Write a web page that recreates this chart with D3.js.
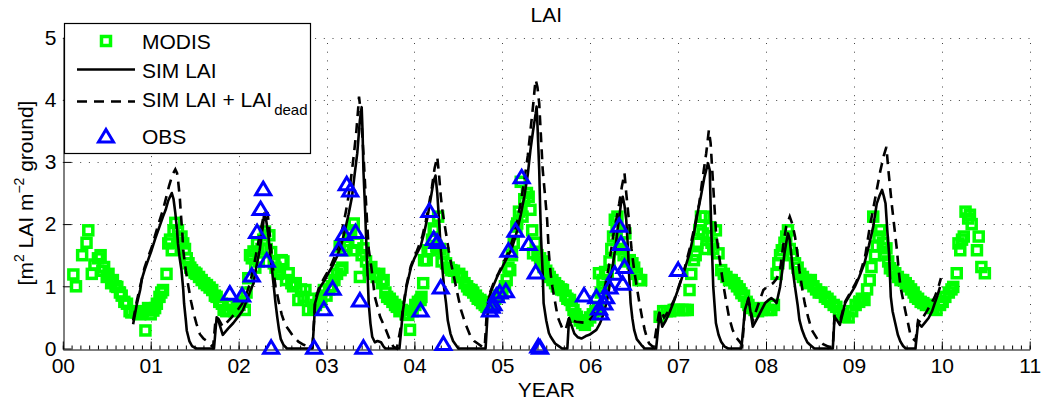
<!DOCTYPE html>
<html>
<head>
<meta charset="utf-8">
<script src="https://cdn.jsdelivr.net/npm/d3@7"></script>
<style>
  body { margin: 0; background: #fff; }
  svg { display: block; font-family: 'Liberation Sans', Arial, Helvetica, sans-serif; }
</style>
</head>
<body>
<div id="chart"></div>
<script>
// x in years since 2000, y in LAI [m2 m-2]
const modis = [
  [0.12,1.19],[0.15,1.0],[0.22,1.5],[0.27,1.70],[0.29,1.90],[0.33,1.2],[0.36,1.35],[0.40,1.45],[0.43,1.5],
  [0.45,1.25],[0.47,1.31],[0.50,1.15],[0.52,1.2],[0.55,1.05],[0.57,1.1],[0.60,1.0],[0.62,0.99],[0.65,0.9],
  [0.67,0.85],[0.70,0.75],[0.73,0.72],[0.76,0.6],[0.78,0.58],[0.82,0.6],[0.84,0.58],[0.88,0.55],[0.91,0.6],
  [0.94,0.29],[0.97,0.65],[1.0,0.55],[1.03,0.61],[1.05,0.65],[1.07,0.72],[1.10,0.83],[1.12,0.9],[1.14,0.94],
  [1.18,1.2],[1.20,1.69],[1.22,1.75],[1.24,1.58],[1.26,1.9],[1.28,2.02],[1.31,1.9],[1.33,1.7],[1.35,1.8],
  [1.37,1.69],[1.39,1.60],[1.41,1.45],[1.43,1.37],[1.45,1.3],[1.47,1.26],[1.50,1.22],[1.52,1.2],[1.55,1.15],
  [1.58,1.1],[1.61,1.05],[1.64,1.02],[1.67,0.98],[1.70,0.94],[1.73,0.85],[1.75,0.83],[1.78,0.75],[1.81,0.72],
  [1.83,0.62],[1.86,0.6],[1.89,0.62],[1.92,0.7],[1.95,0.6],[1.98,0.65],[2.01,0.7],[2.04,0.75],[2.07,0.62],
  [2.09,0.9],[2.11,1.13],[2.13,1.5],[2.15,1.45],[2.17,1.56],[2.19,1.3],[2.21,1.69],[2.23,1.4],[2.26,1.6],
  [2.28,1.75],[2.30,1.88],[2.32,1.6],[2.35,1.82],[2.37,1.55],[2.40,1.37],[2.42,1.3],[2.45,1.2],[2.47,1.25],
  [2.49,1.42],[2.51,1.4],[2.54,1.1],[2.57,1.21],[2.60,1.05],[2.62,1.0],[2.65,1.05],[2.68,0.78],[2.71,0.95],
  [2.74,0.83],[2.76,0.94],[2.79,0.62],[2.82,0.8],[2.85,0.65],[2.88,0.7],[2.91,0.75],[2.94,0.8],[2.97,0.94],
  [3.0,0.85],[3.03,0.95],[3.06,1.0],[3.09,1.1],[3.12,1.2],[3.15,1.64],[3.16,1.26],[3.18,1.3],[3.20,1.58],
  [3.22,1.65],[3.25,1.85],[3.28,1.9],[3.31,2.01],[3.33,1.58],[3.35,1.7],[3.38,1.15],[3.40,1.5],[3.42,1.61],
  [3.45,1.4],[3.48,1.26],[3.51,1.31],[3.54,1.2],[3.57,1.15],[3.60,1.2],[3.63,1.05],[3.65,1.1],[3.67,0.9],
  [3.69,0.83],[3.72,0.8],[3.75,0.75],[3.78,0.7],[3.80,0.67],[3.83,0.6],[3.86,0.62],[3.90,0.55],[3.93,0.54],
  [3.95,0.3],[3.98,0.6],[4.01,0.7],[4.04,0.75],[4.07,0.78],[4.08,0.83],[4.10,1.05],[4.11,1.42],[4.14,1.42],
  [4.15,1.58],[4.18,1.58],[4.20,1.75],[4.22,1.93],[4.23,1.9],[4.25,1.65],[4.27,2.12],[4.29,1.6],[4.31,1.4],
  [4.33,1.53],[4.36,1.37],[4.39,1.3],[4.42,1.26],[4.45,1.25],[4.49,1.15],[4.51,1.2],[4.54,1.15],[4.57,1.05],
  [4.60,1.0],[4.62,0.95],[4.65,0.94],[4.67,0.9],[4.70,0.85],[4.72,0.8],[4.75,0.78],[4.77,0.73],[4.80,0.7],
  [4.82,0.67],[4.85,0.72],[4.88,0.75],[4.92,0.8],[4.96,0.85],[5.0,0.9],[5.03,1.0],[5.05,1.1],[5.07,1.3],
  [5.09,1.26],[5.11,1.5],[5.13,1.7],[5.16,1.96],[5.17,2.01],[5.19,2.2],[5.21,2.68],[5.23,2.12],[5.25,2.4],
  [5.28,2.5],[5.30,2.44],[5.32,2.23],[5.34,1.9],[5.35,1.53],[5.38,1.7],[5.40,1.5],[5.43,1.45],[5.45,1.4],
  [5.47,1.31],[5.50,1.25],[5.52,1.2],[5.54,1.15],[5.57,1.1],[5.60,1.05],[5.62,1.0],[5.64,0.99],[5.67,0.95],
  [5.69,0.94],[5.72,0.85],[5.74,0.8],[5.77,0.78],[5.79,0.7],[5.81,0.62],[5.83,0.55],[5.85,0.51],[5.88,0.45],
  [5.91,0.41],[5.94,0.38],[5.97,0.45],[6.0,0.5],[6.03,0.55],[6.06,0.6],[6.09,0.67],[6.10,1.21],[6.12,0.9],
  [6.14,1.1],[6.15,0.99],[6.17,1.23],[6.20,1.2],[6.22,1.4],[6.24,1.6],[6.26,1.8],[6.28,2.07],[6.30,1.9],
  [6.31,2.12],[6.33,1.7],[6.35,1.6],[6.38,1.5],[6.40,1.85],[6.42,1.4],[6.45,1.42],[6.48,1.37],[6.50,1.3],
  [6.53,1.2],[6.55,1.1],[6.58,1.1],
  [6.79,0.51],[6.83,0.6],[6.87,0.6],[6.91,0.6],[6.95,0.62],[6.97,0.62],[7.01,0.62],[7.05,0.62],[7.08,0.62],
  [7.11,0.62],[7.13,0.94],[7.15,1.2],[7.18,1.42],[7.20,1.5],[7.22,1.7],[7.24,1.9],[7.26,2.12],[7.28,1.85],
  [7.30,2.12],[7.32,1.6],[7.34,1.8],[7.36,1.95],[7.38,1.7],[7.40,1.6],[7.43,1.9],[7.46,1.53],[7.49,1.26],
  [7.52,1.2],[7.55,1.15],[7.58,1.1],[7.61,1.1],[7.64,1.05],[7.67,1.0],[7.70,0.95],[7.72,0.89],[7.75,0.85],
  [7.78,0.75],[7.80,0.7],[7.84,0.65],[7.87,0.62],[7.91,0.6],[7.95,0.62],[7.98,0.65],[8.02,0.62],[8.06,0.62],
  [8.09,0.7],[8.12,1.2],[8.14,1.37],[8.16,1.5],[8.18,1.58],[8.21,1.7],[8.23,1.8],[8.25,1.9],[8.27,1.6],
  [8.30,1.5],[8.33,1.37],[8.36,1.3],[8.39,1.2],[8.42,1.15],[8.45,1.1],[8.48,1.05],[8.51,1.1],[8.54,1.0],
  [8.57,0.95],[8.60,0.9],[8.63,0.9],[8.67,0.83],[8.70,0.8],[8.73,0.75],[8.77,0.7],[8.80,0.67],[8.83,0.6],
  [8.87,0.55],[8.90,0.51],[8.94,0.5],[8.98,0.6],[9.02,0.7],[9.06,0.75],[9.09,0.8],[9.12,0.78],[9.15,0.95],
  [9.18,1.1],[9.20,1.31],[9.22,2.12],[9.24,1.5],[9.26,1.64],[9.28,1.8],[9.30,1.9],[9.33,1.7],[9.35,1.5],
  [9.37,1.61],[9.39,1.4],[9.41,1.29],[9.44,1.25],[9.47,1.21],[9.50,1.15],[9.53,1.1],[9.56,1.1],[9.59,1.05],
  [9.62,1.0],[9.65,0.95],[9.68,0.9],[9.70,0.83],[9.73,0.8],[9.76,0.75],[9.79,0.73],[9.82,0.7],[9.86,0.7],
  [9.90,0.65],[9.94,0.62],[9.98,0.7],[10.01,0.75],[10.04,0.83],[10.08,0.9],[10.11,0.95],[10.13,0.99],
  [10.17,1.21],[10.19,1.69],[10.21,1.58],[10.23,1.75],[10.25,1.8],[10.27,2.2],[10.30,2.09],[10.32,2.15],
  [10.34,2.0],[10.40,1.58],[10.42,1.8],[10.45,1.31],[10.49,1.21]
];

const simLai = [
  [0.80,0.39],[0.84,0.7],[0.88,0.94],[0.90,1.12],[0.93,1.26],[0.97,1.42],[1.01,1.58],[1.05,1.76],[1.10,1.96],
  [1.14,2.12],[1.17,2.23],[1.20,2.38],[1.24,2.50],[1.26,2.4],[1.28,2.18],[1.30,1.9],[1.31,1.69],[1.33,1.45],
  [1.35,1.26],[1.37,0.95],[1.38,0.72],[1.40,0.45],[1.41,0.29],[1.44,0.12],[1.47,0.04],[1.52,0],[1.72,0],
  [1.75,0.5],[1.77,0.45],[1.82,0.22],[1.88,0.32],[1.94,0.41],[2.0,0.52],[2.05,0.62],[2.10,0.8],[2.14,0.95],
  [2.17,1.05],[2.20,1.3],[2.24,1.58],[2.26,1.8],[2.28,2.0],[2.29,2.17],[2.31,2.1],[2.34,1.8],[2.36,1.5],
  [2.38,1.27],[2.40,1.0],[2.42,0.73],[2.44,0.5],[2.46,0.3],[2.48,0.15],[2.51,0.06],[2.55,0],[2.84,0],
  [2.86,0.45],[2.87,0.73],[2.90,0.88],[2.93,0.99],[2.98,1.1],[3.02,1.21],[3.07,1.33],[3.12,1.48],[3.17,1.68],
  [3.21,1.9],[3.25,2.15],[3.29,2.44],[3.32,2.8],[3.35,3.14],[3.38,3.67],[3.40,3.88],[3.41,3.5],[3.42,2.87],
  [3.44,2.2],[3.45,1.8],[3.47,1.1],[3.48,0.73],[3.50,0.4],[3.52,0.19],[3.55,0.1],[3.58,0.12],[3.62,0.1],
  [3.65,0.03],[3.67,0],[3.83,0],
  [3.85,0.3],[3.87,0.62],[3.91,0.99],[3.96,1.30],[4.00,1.45],[4.04,1.56],[4.07,1.64],[4.11,1.85],[4.15,2.12],
  [4.19,2.45],[4.22,2.70],[4.24,2.78],[4.26,2.5],[4.28,2.07],[4.30,1.6],[4.32,1.26],[4.34,0.95],[4.36,0.73],
  [4.38,0.45],[4.41,0.24],[4.44,0.12],[4.47,0.06],[4.50,0],[4.81,0],
  [4.83,0.5],[4.85,0.83],[4.88,0.95],[4.91,1.05],[4.95,1.18],[5.0,1.31],[5.05,1.45],[5.10,1.58],[5.14,1.75],
  [5.17,1.9],[5.21,2.15],[5.25,2.44],[5.29,2.8],[5.32,3.19],[5.35,3.5],[5.38,3.78],[5.39,3.89],[5.40,3.6],
  [5.42,2.87],[5.43,2.3],[5.44,1.8],[5.46,1.2],[5.47,0.73],[5.50,0.45],[5.53,0.25],[5.55,0.19],[5.60,0.08],
  [5.65,0.03],[5.68,0],[5.74,0],
  [5.76,0.49],[5.78,0.4],[5.82,0.24],[5.86,0.18],[5.90,0.16],[5.95,0.2],[5.99,0.22],[6.03,0.26],[6.07,0.3],
  [6.11,0.4],[6.14,0.51],[6.17,0.65],[6.20,0.83],[6.23,1.1],[6.26,1.37],[6.29,1.65],[6.31,1.9],[6.33,2.1],
  [6.35,2.33],[6.37,2.44],[6.39,2.3],[6.41,2.07],[6.43,1.6],[6.44,1.26],[6.46,0.73],[6.48,0.48],[6.50,0.3],
  [6.53,0.15],[6.58,0.06],[6.62,0],[6.75,0],
  [6.79,0.57],[6.82,0.35],[6.86,0.45],[6.90,0.57],[6.95,0.75],[7.01,0.99],[7.07,1.25],[7.13,1.53],[7.18,1.85],
  [7.22,2.17],[7.26,2.45],[7.30,2.76],[7.34,2.98],[7.36,2.87],[7.37,2.3],[7.38,1.8],[7.40,0.99],[7.42,0.6],
  [7.43,0.41],[7.46,0.22],[7.49,0.11],[7.53,0.03],[7.57,0],[7.72,0],
  [7.76,0.62],[7.80,0.81],[7.85,0.35],[7.91,0.51],[7.95,0.62],[7.99,0.73],[8.03,0.78],[8.06,0.81],[8.09,0.78],
  [8.12,0.73],[8.16,0.99],[8.19,1.3],[8.21,1.53],[8.23,1.7],[8.25,1.85],[8.27,1.75],[8.29,1.48],[8.31,1.2],
  [8.33,0.99],[8.36,0.7],[8.38,0.46],[8.41,0.3],[8.44,0.19],[8.47,0.1],[8.50,0.06],[8.55,0],[8.76,0],
  [8.78,0.51],[8.81,0.45],[8.84,0.38],[8.87,0.55],[8.90,0.73],[8.95,0.85],[9.01,0.99],[9.06,1.15],[9.12,1.37],
  [9.17,1.65],[9.22,1.96],[9.26,2.33],[9.29,2.45],[9.32,2.55],[9.34,2.45],[9.36,2.33],[9.38,1.9],[9.40,1.53],
  [9.42,0.83],[9.44,0.6],[9.47,0.41],[9.50,0.22],[9.53,0.11],[9.56,0.04],[9.59,0],[9.70,0],
  [9.73,0.41],[9.75,0.38],[9.77,0.35],[9.81,0.42],[9.85,0.49],[9.89,0.6],[9.92,0.73],[9.95,0.85],[9.98,0.99]
];

const simLaiDead = [
  [0.80,0.45],[0.84,0.75],[0.88,1.0],[0.93,1.3],[0.97,1.47],[1.01,1.62],[1.05,1.82],[1.10,2.05],[1.14,2.23],
  [1.18,2.45],[1.21,2.62],[1.25,2.80],[1.28,2.88],[1.30,2.82],[1.31,2.72],[1.33,2.45],[1.34,2.23],[1.36,1.85],
  [1.37,1.58],[1.40,1.25],[1.43,0.99],[1.46,0.75],[1.49,0.56],[1.52,0.4],[1.56,0.23],[1.60,0.16],[1.64,0.12],
  [1.68,0.06],[1.71,0.02],
  [1.74,0.5],[1.77,0.48],[1.82,0.35],[1.86,0.41],[1.92,0.5],[1.98,0.6],[2.04,0.72],[2.09,0.88],[2.13,1.05],
  [2.17,1.3],[2.21,1.6],[2.25,1.9],[2.28,2.1],[2.31,2.2],[2.33,2.18],[2.35,1.9],[2.37,1.6],[2.39,1.3],
  [2.42,1.0],[2.46,0.73],[2.49,0.55],[2.53,0.38],[2.57,0.3],[2.62,0.2],[2.68,0.11],[2.74,0.06],[2.80,0.03],
  [2.84,0.02],
  [2.86,0.5],[2.87,0.78],[2.92,1.0],[2.98,1.15],[3.04,1.3],[3.10,1.5],[3.15,1.75],[3.20,2.05],[3.24,2.35],
  [3.28,2.75],[3.31,3.1],[3.34,3.5],[3.36,3.85],[3.37,4.05],[3.39,3.8],[3.42,3.14],[3.44,2.6],[3.46,2.07],
  [3.48,1.6],[3.51,1.31],[3.55,0.83],[3.61,0.51],[3.67,0.32],[3.72,0.14],[3.76,0.03],[3.80,0],
  [3.84,0.3],[3.87,0.65],[3.91,1.02],[3.96,1.33],[4.01,1.5],[4.05,1.65],[4.09,1.8],[4.13,2.05],[4.17,2.35],
  [4.20,2.6],[4.23,2.9],[4.26,3.08],[4.28,2.8],[4.30,2.45],[4.32,2.2],[4.36,1.85],[4.39,1.58],[4.42,1.35],
  [4.45,1.15],[4.49,0.88],[4.53,0.62],[4.58,0.4],[4.64,0.19],[4.68,0.12],[4.72,0.08],[4.77,0.03],[4.80,0.02],
  [4.82,0.5],[4.85,0.86],[4.90,1.05],[4.96,1.22],[5.02,1.4],[5.08,1.58],[5.13,1.82],[5.17,2.05],[5.21,2.35],
  [5.25,2.7],[5.29,3.1],[5.32,3.5],[5.35,3.9],[5.37,4.2],[5.38,4.32],[5.40,4.2],[5.42,3.94],[5.44,3.4],
  [5.46,2.87],[5.49,2.4],[5.51,2.07],[5.53,1.53],[5.55,1.2],[5.57,0.99],[5.60,0.75],[5.63,0.51],[5.66,0.4],
  [5.69,0.3],[5.72,0.3],
  [5.76,0.5],[5.80,0.45],[5.84,0.43],[5.90,0.42],[5.96,0.41],[6.02,0.5],[6.07,0.62],[6.12,0.78],[6.16,0.94],
  [6.21,1.3],[6.26,1.8],[6.30,2.1],[6.33,2.33],[6.36,2.6],[6.39,2.82],[6.41,2.5],[6.44,2.07],[6.47,1.6],
  [6.50,1.26],[6.53,0.99],[6.56,0.73],[6.59,0.5],[6.62,0.3],[6.65,0.15],[6.67,0.08],[6.72,0.02],
  [6.78,0.55],[6.80,0.62],[6.84,0.5],[6.90,0.62],[6.96,0.8],[7.02,1.05],[7.08,1.32],[7.14,1.65],[7.20,2.05],
  [7.24,2.33],[7.28,2.75],[7.32,3.14],[7.35,3.51],[7.37,3.3],[7.40,2.6],[7.43,1.9],[7.46,1.55],[7.49,1.26],
  [7.52,0.98],[7.55,0.73],[7.58,0.5],[7.62,0.3],[7.66,0.18],[7.70,0.11],[7.73,0.05],
  [7.76,0.62],[7.80,0.78],[7.85,0.45],[7.91,0.7],[7.97,0.94],[8.02,1.0],[8.08,1.05],[8.12,1.12],[8.16,1.26],
  [8.20,1.7],[8.23,1.96],[8.27,2.12],[8.30,2.0],[8.33,1.8],[8.36,1.5],[8.38,1.26],[8.41,0.98],[8.44,0.73],
  [8.48,0.5],[8.52,0.3],[8.59,0.14],[8.65,0.07],[8.71,0.03],[8.76,0.02],
  [8.78,0.55],[8.82,0.5],[8.85,0.48],[8.90,0.75],[8.96,0.9],[9.02,1.05],[9.08,1.25],[9.13,1.5],[9.18,1.95],
  [9.22,2.25],[9.26,2.55],[9.30,2.85],[9.34,3.1],[9.37,3.24],[9.39,2.9],[9.43,2.33],[9.46,1.95],[9.49,1.58],
  [9.51,1.25],[9.53,0.99],[9.56,0.78],[9.59,0.57],[9.62,0.38],[9.64,0.24],[9.67,0.16],[9.70,0.12],
  [9.73,0.45],[9.76,0.42],[9.79,0.51],[9.83,0.6],[9.87,0.7],[9.92,0.83],[9.96,0.98],[9.99,1.13]
];

const obs = [
  [1.90,0.89],[2.04,0.86],[2.15,1.18],[2.21,1.88],[2.25,2.25],[2.28,2.57],[2.32,1.42],[2.37,0.02],
  [2.86,0.02],[2.97,0.64],[3.07,0.97],[3.14,1.6],[3.20,1.85],[3.23,2.65],[3.27,2.55],[3.33,1.88],[3.38,0.78],
  [3.42,0.02],[4.07,0.62],[4.17,2.22],[4.22,1.77],[4.26,1.72],[4.30,0.99],[4.33,0.08],
  [4.86,0.62],[4.88,0.68],[4.90,0.72],[4.93,0.85],[4.97,0.91],[5.04,0.93],[5.07,1.58],[5.15,1.9],[5.22,2.76],
  [5.30,1.69],[5.38,1.23],[5.41,0.04],[5.43,0.02],
  [5.93,0.86],[6.07,0.83],[6.10,0.65],[6.12,0.57],[6.16,0.73],[6.18,0.83],[6.22,0.99],[6.28,1.21],[6.33,1.98],
  [6.35,1.69],[6.39,1.32],[6.37,1.05],[7.00,1.27]
];

const xTicks = d3.range(0, 12);
const yTicks = d3.range(0, 6);
const xMinorTicks = d3.range(0, 110.5).map(d => d / 10);

const width = 1043;
const height = 405;
const font = "'Liberation Sans', Arial, Helvetica, sans-serif";

const svg = d3.select('#chart').append('svg')
  .attr('width', width)
  .attr('height', height);

const x = d3.scaleLinear().domain([0, 11]).range([62.8, 1029.7]);
const y = d3.scaleLinear().domain([0, 5]).range([348.5, 37.5]);
const px = v => Math.round(v) + 0.5;

// dotted grid
const grid = svg.append('g')
  .attr('class', 'grid')
  .attr('stroke', '#444')
  .attr('stroke-width', 1)
  .attr('stroke-dasharray', '1 7.7');

grid.selectAll('.vgrid')
  .data(xTicks.slice(1))
  .join('line')
  .attr('class', 'vgrid')
  .attr('x1', d => px(x(d)))
  .attr('x2', d => px(x(d)))
  .attr('y1', y(0))
  .attr('y2', y(5));

grid.selectAll('.hgrid')
  .data(yTicks.slice(1))
  .join('line')
  .attr('class', 'hgrid')
  .attr('x1', x(0))
  .attr('x2', x(11))
  .attr('y1', d => px(y(d)))
  .attr('y2', d => px(y(d)));

// axes (ticks point inwards, MATLAB style)
const xMinor = svg.append('g')
  .attr('transform', `translate(0, ${px(y(0))})`)
  .call(d3.axisBottom(x).tickValues(xMinorTicks).tickFormat('').tickSizeInner(-4).tickSizeOuter(0));
xMinor.select('.domain').remove();

const xAxis = svg.append('g')
  .attr('class', 'x-axis')
  .attr('transform', `translate(0, ${px(y(0))})`)
  .call(d3.axisBottom(x)
    .tickValues(xTicks)
    .tickFormat(d3.format('02d'))
    .tickSizeInner(-8)
    .tickSizeOuter(0)
    .tickPadding(9));

const yAxis = svg.append('g')
  .attr('class', 'y-axis')
  .attr('transform', `translate(${px(x(0))}, 0)`)
  .call(d3.axisLeft(y)
    .tickValues(yTicks)
    .tickFormat(d3.format('d'))
    .tickSizeInner(-8)
    .tickSizeOuter(0)
    .tickPadding(7));

[xAxis, yAxis, xMinor].forEach(g => {
  g.attr('font-family', font).attr('font-size', 21);
  g.selectAll('text').attr('fill', '#000');
  g.selectAll('line, path').attr('stroke', '#000');
});

// MODIS squares
const sq = 9;
svg.append('g')
  .attr('class', 'modis')
  .selectAll('rect')
  .data(modis)
  .join('rect')
  .attr('x', d => x(d[0]) - sq / 2)
  .attr('y', d => y(d[1]) - sq / 2)
  .attr('width', sq)
  .attr('height', sq)
  .attr('fill', 'none')
  .attr('stroke', '#00ff00')
  .attr('stroke-width', 3.5);

const line = d3.line()
  .x(d => x(d[0]))
  .y(d => y(d[1]));

svg.append('path')
  .datum(simLai)
  .attr('d', line)
  .attr('fill', 'none')
  .attr('stroke', '#000')
  .attr('stroke-width', 2.6)
  .attr('stroke-linejoin', 'round');

svg.append('path')
  .datum(simLaiDead)
  .attr('d', line)
  .attr('fill', 'none')
  .attr('stroke', '#000')
  .attr('stroke-width', 2.6)
  .attr('stroke-dasharray', '10 7');

const triangle = 'M0,-6.5L7.5,6L-7.5,6Z';

svg.append('g')
  .attr('class', 'obs')
  .selectAll('path')
  .data(obs)
  .join('path')
  .attr('d', triangle)
  .attr('transform', d => `translate(${x(d[0])}, ${y(d[1])})`)
  .attr('fill', 'none')
  .attr('stroke', '#0000ff')
  .attr('stroke-width', 3);

// titles
svg.append('text')
  .text('LAI')
  .attr('x', (x(0) + x(11)) / 2)
  .attr('y', 21.5)
  .attr('text-anchor', 'middle')
  .attr('font-size', 21);

svg.append('text')
  .text('YEAR')
  .attr('x', (x(0) + x(11)) / 2)
  .attr('y', 397)
  .attr('text-anchor', 'middle')
  .attr('font-size', 21);

const yLabel = svg.append('text')
  .attr('transform', `translate(33, ${(y(0) + y(5)) / 2}) rotate(-90)`)
  .attr('text-anchor', 'middle')
  .attr('font-size', 21);
yLabel.append('tspan').text('[m');
yLabel.append('tspan').text('2').attr('font-size', 14).attr('dy', -9);
yLabel.append('tspan').text(' LAI m').attr('dy', 9);
yLabel.append('tspan').text('\u22122').attr('font-size', 14).attr('dy', -9);
yLabel.append('tspan').text(' ground]').attr('dy', 9);

// legend
const legend = svg.append('g').attr('class', 'legend');

legend.append('rect')
  .attr('x', 64.5)
  .attr('y', 23.5)
  .attr('width', 246)
  .attr('height', 130)
  .attr('fill', '#fff')
  .attr('stroke', '#000')
  .attr('stroke-width', 1.2);

legend.append('rect')
  .attr('x', 106 - sq / 2)
  .attr('y', 41 - sq / 2)
  .attr('width', sq)
  .attr('height', sq)
  .attr('fill', 'none')
  .attr('stroke', '#00ff00')
  .attr('stroke-width', 3.5);

legend.append('line')
  .attr('x1', 77).attr('x2', 135)
  .attr('y1', 69.5).attr('y2', 69.5)
  .attr('stroke', '#000')
  .attr('stroke-width', 2.6);

legend.append('line')
  .attr('x1', 77).attr('x2', 135)
  .attr('y1', 101.5).attr('y2', 101.5)
  .attr('stroke', '#000')
  .attr('stroke-width', 2.6)
  .attr('stroke-dasharray', '10 7');

legend.append('path')
  .attr('d', triangle)
  .attr('transform', 'translate(106, 136)')
  .attr('fill', 'none')
  .attr('stroke', '#0000ff')
  .attr('stroke-width', 3);

const legendText = [
  { label: 'MODIS', y: 48.5 },
  { label: 'SIM LAI', y: 78 },
  { label: 'SIM LAI + LAI', y: 107, sub: 'dead' },
  { label: 'OBS', y: 143.5 }
];

legendText.forEach(d => {
  const t = legend.append('text')
    .attr('x', 142)
    .attr('y', d.y)
    .attr('font-size', 21);
  t.append('tspan').text(d.label);
  if (d.sub) {
    t.append('tspan').text(d.sub).attr('font-size', 15).attr('dy', 8).attr('dx', 2);
  }
});

svg.selectAll('text').attr('font-family', font);
</script>
</body>
</html>
